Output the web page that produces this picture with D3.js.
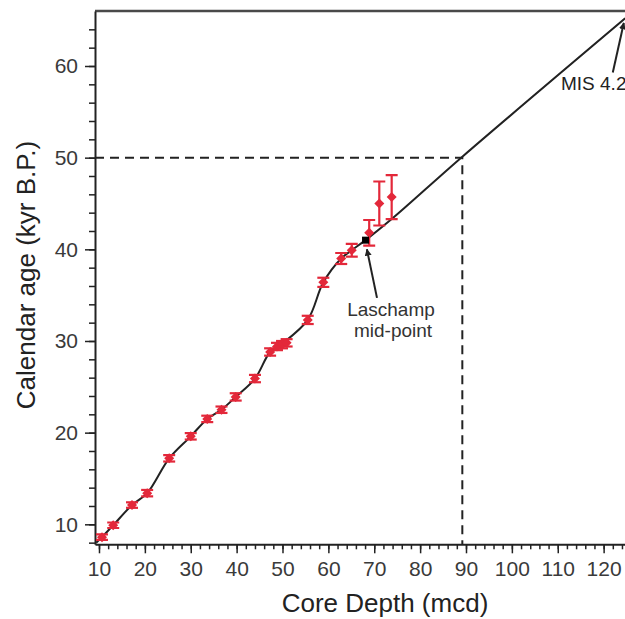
<!DOCTYPE html>
<html>
<head>
<meta charset="utf-8">
<script src="https://cdn.jsdelivr.net/npm/d3@7"></script>
<style>
  body { margin: 0; background: #fff; }
  text { font-family: "Liberation Sans", Arial, sans-serif; }
</style>
</head>
<body>
<div id="chart"></div>
<script>
// Age model: core depth vs calendar age

// Tick values
const depthTicks = [10, 20, 30, 40, 50, 60, 70, 80, 90, 100, 110, 120];
const ageTicks = [10, 20, 30, 40, 50, 60];

// Dated tie points (red, with age error)
const sampleDepth = [10.65, 13.1, 17.2, 20.5, 25.3, 30.0, 33.6, 36.7, 39.8, 44.0, 47.3, 48.8, 49.9, 50.9, 55.5, 58.9, 62.8, 65.1, 68.9, 71.1, 73.8];
const sampleAge   = [8.6, 9.9, 12.1, 13.4, 17.2, 19.6, 21.5, 22.5, 23.9, 25.9, 28.8, 29.4, 29.6, 29.8, 32.3, 36.4, 39.0, 39.9, 41.8, 45.0, 45.7];
const sampleErr   = [0.3, 0.3, 0.3, 0.35, 0.35, 0.35, 0.35, 0.35, 0.4, 0.4, 0.4, 0.4, 0.4, 0.4, 0.45, 0.5, 0.6, 0.7, 1.4, 2.4, 2.4];

// Age model curve
const modelDepth = [9.4, 10.65, 13.1, 17.2, 20.5, 25.3, 30.0, 33.6, 36.7, 39.8, 44.0, 47.3, 49.9, 55.5, 58.9, 62.8, 65.1, 68.1, 73.8, 89.2, 124.7];
const modelAge   = [8.0, 8.6, 9.9, 12.1, 13.4, 17.2, 19.6, 21.5, 22.5, 23.9, 25.9, 28.8, 29.7, 32.3, 36.4, 39.0, 39.9, 41.0, 43.3, 50.1, 65.2];

// Laschamp mid-point, MIS 4.2 and 50 kyr reference
const laschamp = [68.1, 41.0];
const mis42 = [124.4, 64.7];
const refDepth = 89.2, refAge = 50;

const width = 625, height = 619;
const red = "#e3283a", ink = "#222";

const svg = d3.select("#chart")
    .append("svg")
    .attr("width", width)
    .attr("height", height);

const x = d3.scaleLinear().domain([9.13, 124.66]).range([95, 625]);
const y = d3.scaleLinear().domain([7.82, 66.0]).range([544.3, 11]);

svg.append("defs").append("clipPath").attr("id", "plot")
    .append("rect")
    .attr("x", x.range()[0]).attr("y", y.range()[1])
    .attr("width", x.range()[1] - x.range()[0])
    .attr("height", y.range()[0] - y.range()[1]);

svg.select("defs").append("marker")
    .attr("id", "arrow")
    .attr("viewBox", "0 0 10 10")
    .attr("refX", 9).attr("refY", 5)
    .attr("markerWidth", 7).attr("markerHeight", 7)
    .attr("markerUnits", "userSpaceOnUse")
    .attr("orient", "auto")
    .append("path")
    .attr("d", "M0,0 L10,5 L0,10 Z")
    .attr("fill", ink);

// Top frame
svg.append("line")
    .attr("x1", x.range()[0]).attr("x2", width)
    .attr("y1", y.range()[1]).attr("y2", y.range()[1])
    .attr("stroke", "#4a4a4a").attr("stroke-width", 2.5);

// Minor ticks
const minorX = d3.range(10, 125, 2);
const minorY = d3.range(8, 66, 2);
svg.append("g")
    .attr("transform", `translate(0,${y.range()[0]})`)
    .call(d3.axisBottom(x).tickValues(minorX).tickSize(5).tickFormat(""))
    .call(g => g.select(".domain").remove());
svg.append("g")
    .attr("transform", `translate(${x.range()[0]},0)`)
    .call(d3.axisLeft(y).tickValues(minorY).tickSize(6).tickFormat(""))
    .call(g => g.select(".domain").remove());

// Major axes
const xAxis = svg.append("g")
    .attr("transform", `translate(0,${y.range()[0]})`)
    .call(d3.axisBottom(x).tickValues(depthTicks).tickSize(9).tickPadding(8).tickSizeOuter(0));
const yAxis = svg.append("g")
    .attr("transform", `translate(${x.range()[0]},0)`)
    .call(d3.axisLeft(y).tickValues(ageTicks).tickSize(10).tickPadding(7).tickSizeOuter(0));

[xAxis, yAxis].forEach(g => {
    g.select(".domain").attr("stroke", ink).attr("stroke-width", 2);
    g.selectAll(".tick text")
        .attr("font-size", 21)
        .attr("fill", "#3a3a3a")
        .style("font-family", "'Liberation Sans', Arial, sans-serif");
});
svg.selectAll(".tick line").attr("stroke", ink).attr("stroke-width", 1.5);

// Axis labels
svg.append("text")
    .attr("x", 385)
    .attr("y", 612)
    .attr("text-anchor", "middle")
    .attr("font-size", 26)
    .attr("fill", "#222")
    .text("Core Depth (mcd)");

svg.append("text")
    .attr("transform", "rotate(-90)")
    .attr("x", -275)
    .attr("y", 35)
    .attr("text-anchor", "middle")
    .attr("font-size", 26)
    .attr("fill", "#222")
    .text("Calendar age (kyr B.P.)");

// Dashed 50 kyr reference lines
svg.append("path")
    .attr("d", `M${x.range()[0]},${y(refAge)} H${x(refDepth)} V${y.range()[0]}`)
    .attr("fill", "none")
    .attr("stroke", ink)
    .attr("stroke-width", 2)
    .attr("stroke-dasharray", "9,6");

// Age model line
const plot = svg.append("g").attr("clip-path", "url(#plot)");
const model = modelDepth.map((d, i) => [d, modelAge[i]]);
plot.append("path")
    .datum(model)
    .attr("d", d3.line().x(d => x(d[0])).y(d => y(d[1])).curve(d3.curveCatmullRom.alpha(0.5)))
    .attr("fill", "none")
    .attr("stroke", ink)
    .attr("stroke-width", 2);

// Tie points with error bars
const samples = sampleDepth.map((d, i) => ({depth: d, age: sampleAge[i], err: sampleErr[i]}));
const pts = plot.selectAll(".pt")
    .data(samples)
    .enter()
    .append("g")
    .attr("class", "pt")
    .attr("stroke", red)
    .attr("stroke-width", 2.2);
pts.append("line")
    .attr("x1", d => x(d.depth)).attr("x2", d => x(d.depth))
    .attr("y1", d => y(d.age - d.err)).attr("y2", d => y(d.age + d.err));
pts.append("line")
    .attr("x1", d => x(d.depth) - 6).attr("x2", d => x(d.depth) + 6)
    .attr("y1", d => y(d.age + d.err)).attr("y2", d => y(d.age + d.err));
pts.append("line")
    .attr("x1", d => x(d.depth) - 6).attr("x2", d => x(d.depth) + 6)
    .attr("y1", d => y(d.age - d.err)).attr("y2", d => y(d.age - d.err));
pts.append("path")
    .attr("d", d3.symbol(d3.symbolSquare, 50))
    .attr("transform", d => `translate(${x(d.depth)},${y(d.age)}) rotate(45)`)
    .attr("fill", red)
    .attr("stroke", "none");

// Laschamp mid-point
plot.append("rect")
    .attr("x", x(laschamp[0]) - 3.5).attr("y", y(laschamp[1]) - 3.5)
    .attr("width", 7).attr("height", 7)
    .attr("fill", "#000");

// Annotations
svg.append("line")
    .attr("x1", x(70.6)).attr("y1", y(34.7))
    .attr("x2", x(68.4)).attr("y2", y(40.0))
    .attr("stroke", ink).attr("stroke-width", 2)
    .attr("marker-end", "url(#arrow)");
svg.append("text")
    .attr("x", x(73.65)).attr("y", 316)
    .attr("text-anchor", "middle")
    .attr("font-size", 19).attr("fill", "#333")
    .text("Laschamp");
svg.append("text")
    .attr("x", x(74.1)).attr("y", 337)
    .attr("text-anchor", "middle")
    .attr("font-size", 19).attr("fill", "#333")
    .text("mid-point");

svg.append("text")
    .attr("x", 561).attr("y", 90)
    .attr("font-size", 19).attr("fill", "#222")
    .attr("stroke", "#fff").attr("stroke-width", 4)
    .attr("paint-order", "stroke")
    .text("MIS 4.2");
svg.append("line")
    .attr("x1", x(122.0)).attr("y1", y(59.3))
    .attr("x2", x(mis42[0])).attr("y2", y(mis42[1]))
    .attr("stroke", ink).attr("stroke-width", 2)
    .attr("marker-end", "url(#arrow)");
</script>
</body>
</html>
